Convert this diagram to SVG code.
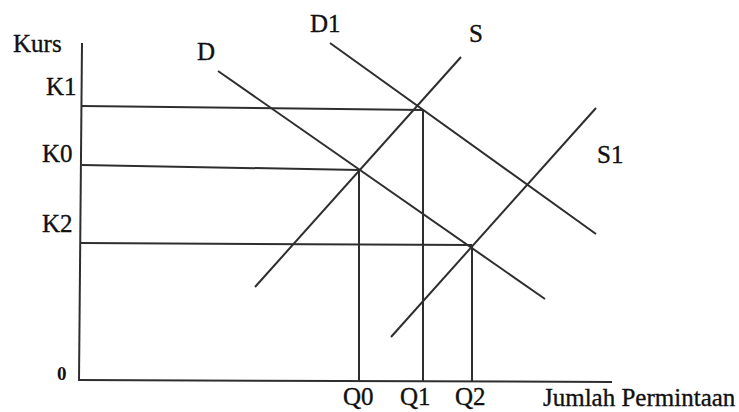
<svg xmlns="http://www.w3.org/2000/svg" width="739" height="412" viewBox="0 0 739 412">
<style>
.ln{stroke:#2e2e2e;stroke-width:2;fill:none;stroke-linecap:butt}
.t{font-family:"Liberation Serif","Times New Roman",serif;font-size:25px;fill:#111;stroke:#111;stroke-width:0.35}
.z{font-family:"Liberation Serif","Times New Roman",serif;font-size:19px;font-weight:bold;fill:#111}
</style>
<rect width="739" height="412" fill="#ffffff"/>
<g id="axes">
<line class="ln" x1="82" y1="43" x2="79" y2="381"/>
<line class="ln" x1="79" y1="380" x2="612" y2="382"/>
</g>
<g id="guides">
<line class="ln" x1="82" y1="106" x2="423" y2="110"/>
<line class="ln" x1="82" y1="165" x2="359" y2="170"/>
<line class="ln" x1="81" y1="243" x2="472" y2="245"/>
<line class="ln" x1="359" y1="170" x2="359" y2="381"/>
<line class="ln" x1="423" y1="109" x2="423" y2="381"/>
<line class="ln" x1="472" y1="245" x2="472" y2="382"/>
</g>
<g id="curves">
<line id="D" class="ln" x1="218" y1="71" x2="545" y2="299"/>
<line id="D1" class="ln" x1="330" y1="43" x2="596" y2="234"/>
<line id="S" class="ln" x1="461" y1="57" x2="255" y2="287"/>
<line id="S1" class="ln" x1="596" y1="108" x2="391" y2="337"/>
</g>
<g id="labels">
<text class="t" x="13" y="52">Kurs</text>
<text class="t" x="46" y="95">K1</text>
<text class="t" x="42" y="162">K0</text>
<text class="t" x="42" y="232">K2</text>
<text class="z" x="57" y="380">0</text>
<text class="t" x="197" y="60">D</text>
<text class="t" x="310" y="32">D1</text>
<text class="t" x="469" y="42">S</text>
<text class="t" x="597" y="163">S1</text>
<text class="t" x="343" y="405">Q0</text>
<text class="t" x="400" y="405">Q1</text>
<text class="t" x="455" y="405">Q2</text>
<text class="t" x="543" y="406">Jumlah Permintaan</text>
</g>
</svg>
